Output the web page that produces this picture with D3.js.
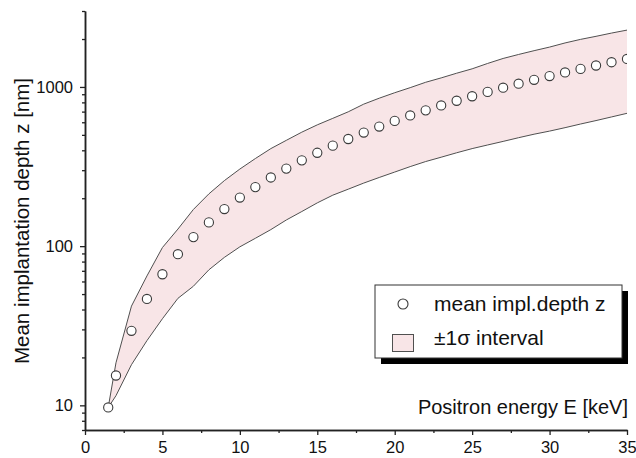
<!DOCTYPE html>
<html>
<head>
<meta charset="utf-8">
<script src="https://cdn.jsdelivr.net/npm/d3@7/dist/d3.min.js"></script>
<style>
  html, body { margin: 0; padding: 0; background: #fff; }
  svg { display: block; font-family: "Liberation Sans", Arial, sans-serif; }
</style>
</head>
<body>
<svg id="chart" width="636" height="458"></svg>
<script>
// Positron energy [keV]
const energy = [1.5, 2, 3, 4, 5, 6, 7, 8, 9, 10, 11, 12, 13, 14, 15, 16, 17, 18, 19, 20,
                21, 22, 23, 24, 25, 26, 27, 28, 29, 30, 31, 32, 33, 34, 35];
// Mean implantation depth [nm]
const meanDepth = [9.7, 15.4, 29.4, 46.6, 66.6, 89, 114, 141, 171, 202, 235, 270, 307, 346, 386,
                   428, 471, 517, 564, 612, 662, 713, 765, 819, 874, 931, 989, 1048, 1109, 1171,
                   1233, 1298, 1364, 1430, 1499];
// Upper and lower edge of the ±1σ interval [nm]
const upperDepth = [9.7, 18.5, 42, 65, 98, 128, 170, 213, 258, 305, 355, 410, 462, 520, 578,
                    635, 698, 780, 850, 920, 990, 1070, 1140, 1220, 1300, 1405, 1510, 1600, 1690, 1780,
                    1890, 1990, 2080, 2180, 2276];
const lowerDepth = [9.7, 11.5, 18, 25.5, 35, 47, 56, 71, 85, 99, 112, 127, 146, 165, 187,
                    209, 228, 249, 270, 292, 316, 340, 362, 386, 410, 432, 455, 480, 505, 528,
                    555, 585, 615, 648, 683];

const xTicks = [0, 5, 10, 15, 20, 25, 30, 35];
const xMinorTicks = [2.5, 7.5, 12.5, 17.5, 22.5, 27.5, 32.5];
const yTicks = [10, 100, 1000];
const yMinorTicks = [7, 8, 9, 20, 30, 40, 50, 60, 70, 80, 90, 200, 300, 400, 500, 600, 700, 800, 900, 2000, 3000];

const xTitle = "Positron energy E [keV]";
const yTitle = "Mean implantation depth z [nm]";
const legendLabels = ["mean impl.depth z", "\u00b11\u03c3 interval"];

const svg = d3.select("#chart");
const plotLeft = 85, plotRight = 627, plotTop = 11, plotBottom = 430;

const x = d3.scaleLinear().domain([0, 35]).range([plotLeft, plotRight]);
const y = d3.scaleLog().domain([7, 3000]).range([plotBottom, plotTop]);

const rows = energy.map((e, i) => ({ e, m: meanDepth[i], hi: upperDepth[i], lo: lowerDepth[i] }));

svg.append("clipPath").attr("id", "plot-clip")
  .append("rect").attr("x", plotLeft).attr("y", plotTop - 5)
  .attr("width", plotRight - plotLeft).attr("height", plotBottom - plotTop + 5);

const plot = svg.append("g").attr("clip-path", "url(#plot-clip)");

// ±1σ band
const band = d3.area()
  .x(d => x(d.e))
  .y0(d => y(d.lo))
  .y1(d => y(d.hi));
plot.append("path").datum(rows)
  .attr("d", band)
  .attr("fill", "#f8e5e7")
  .attr("stroke", "none");
plot.append("path").datum(rows)
  .attr("d", d3.line().x(d => x(d.e)).y(d => y(d.hi)))
  .attr("fill", "none").attr("stroke", "#505050").attr("stroke-width", 1);
plot.append("path").datum(rows)
  .attr("d", d3.line().x(d => x(d.e)).y(d => y(d.lo)))
  .attr("fill", "none").attr("stroke", "#505050").attr("stroke-width", 1);

// mean depth markers
plot.selectAll("circle.mean").data(rows).join("circle")
  .attr("class", "mean")
  .attr("cx", d => x(d.e))
  .attr("cy", d => y(d.m))
  .attr("r", 4.6)
  .attr("fill", "#fff")
  .attr("stroke", "#3a3a3a")
  .attr("stroke-width", 1.1);

// axes
function styleAxis(g) {
  g.select(".domain").attr("stroke", "#222").attr("stroke-width", 1.5);
  g.selectAll(".tick line").attr("stroke", "#222").attr("stroke-width", 1.3);
  g.selectAll(".tick text").attr("fill", "#111").style("font-size", "16.5px")
    .style("font-family", "'Liberation Sans', Arial, sans-serif");
}

svg.append("g").attr("transform", `translate(0,${plotBottom})`)
  .call(d3.axisBottom(x).tickValues(xMinorTicks).tickSize(3).tickSizeOuter(0).tickFormat(""))
  .call(styleAxis);
svg.append("g").attr("transform", `translate(0,${plotBottom})`)
  .call(d3.axisBottom(x).tickValues(xTicks).tickSize(5).tickSizeOuter(0).tickPadding(6).tickFormat(d3.format("d")))
  .call(styleAxis);

svg.append("g").attr("transform", `translate(${plotLeft},0)`)
  .call(d3.axisLeft(y).tickValues(yMinorTicks).tickSize(3).tickSizeOuter(0).tickFormat(""))
  .call(styleAxis);
svg.append("g").attr("transform", `translate(${plotLeft},0)`)
  .call(d3.axisLeft(y).tickValues(yTicks).tickSize(5).tickSizeOuter(0).tickPadding(7).tickFormat(d3.format("d")))
  .call(styleAxis);

// axis titles
svg.append("text")
  .attr("x", 628).attr("y", 414)
  .attr("text-anchor", "end")
  .attr("fill", "#111")
  .style("font-size", "20px")
  .text(xTitle);

svg.append("text")
  .attr("transform", "translate(29,221) rotate(-90)")
  .attr("text-anchor", "middle")
  .attr("fill", "#111")
  .style("font-size", "20.5px")
  .text(yTitle);

// legend
const lg = svg.append("g").attr("transform", "translate(375,285)");
lg.append("rect").attr("x", 6).attr("y", 6).attr("width", 247).attr("height", 73).attr("fill", "#000");
lg.append("rect").attr("x", 0).attr("y", 0).attr("width", 247).attr("height", 73)
  .attr("fill", "#fff").attr("stroke", "#333").attr("stroke-width", 1);
lg.append("circle").attr("cx", 28).attr("cy", 19).attr("r", 5)
  .attr("fill", "#fff").attr("stroke", "#3a3a3a").attr("stroke-width", 1.1);
lg.append("rect").attr("x", 17.5).attr("y", 49.5).attr("width", 21).attr("height", 17)
  .attr("fill", "#f8e5e7").attr("stroke", "#505050").attr("stroke-width", 1);
lg.selectAll("text.lab").data(legendLabels).join("text")
  .attr("class", "lab")
  .attr("x", 59)
  .attr("y", (d, i) => 26 + i * 34)
  .attr("fill", "#111")
  .style("font-size", "21px")
  .text(d => d);
</script>
</body>
</html>
